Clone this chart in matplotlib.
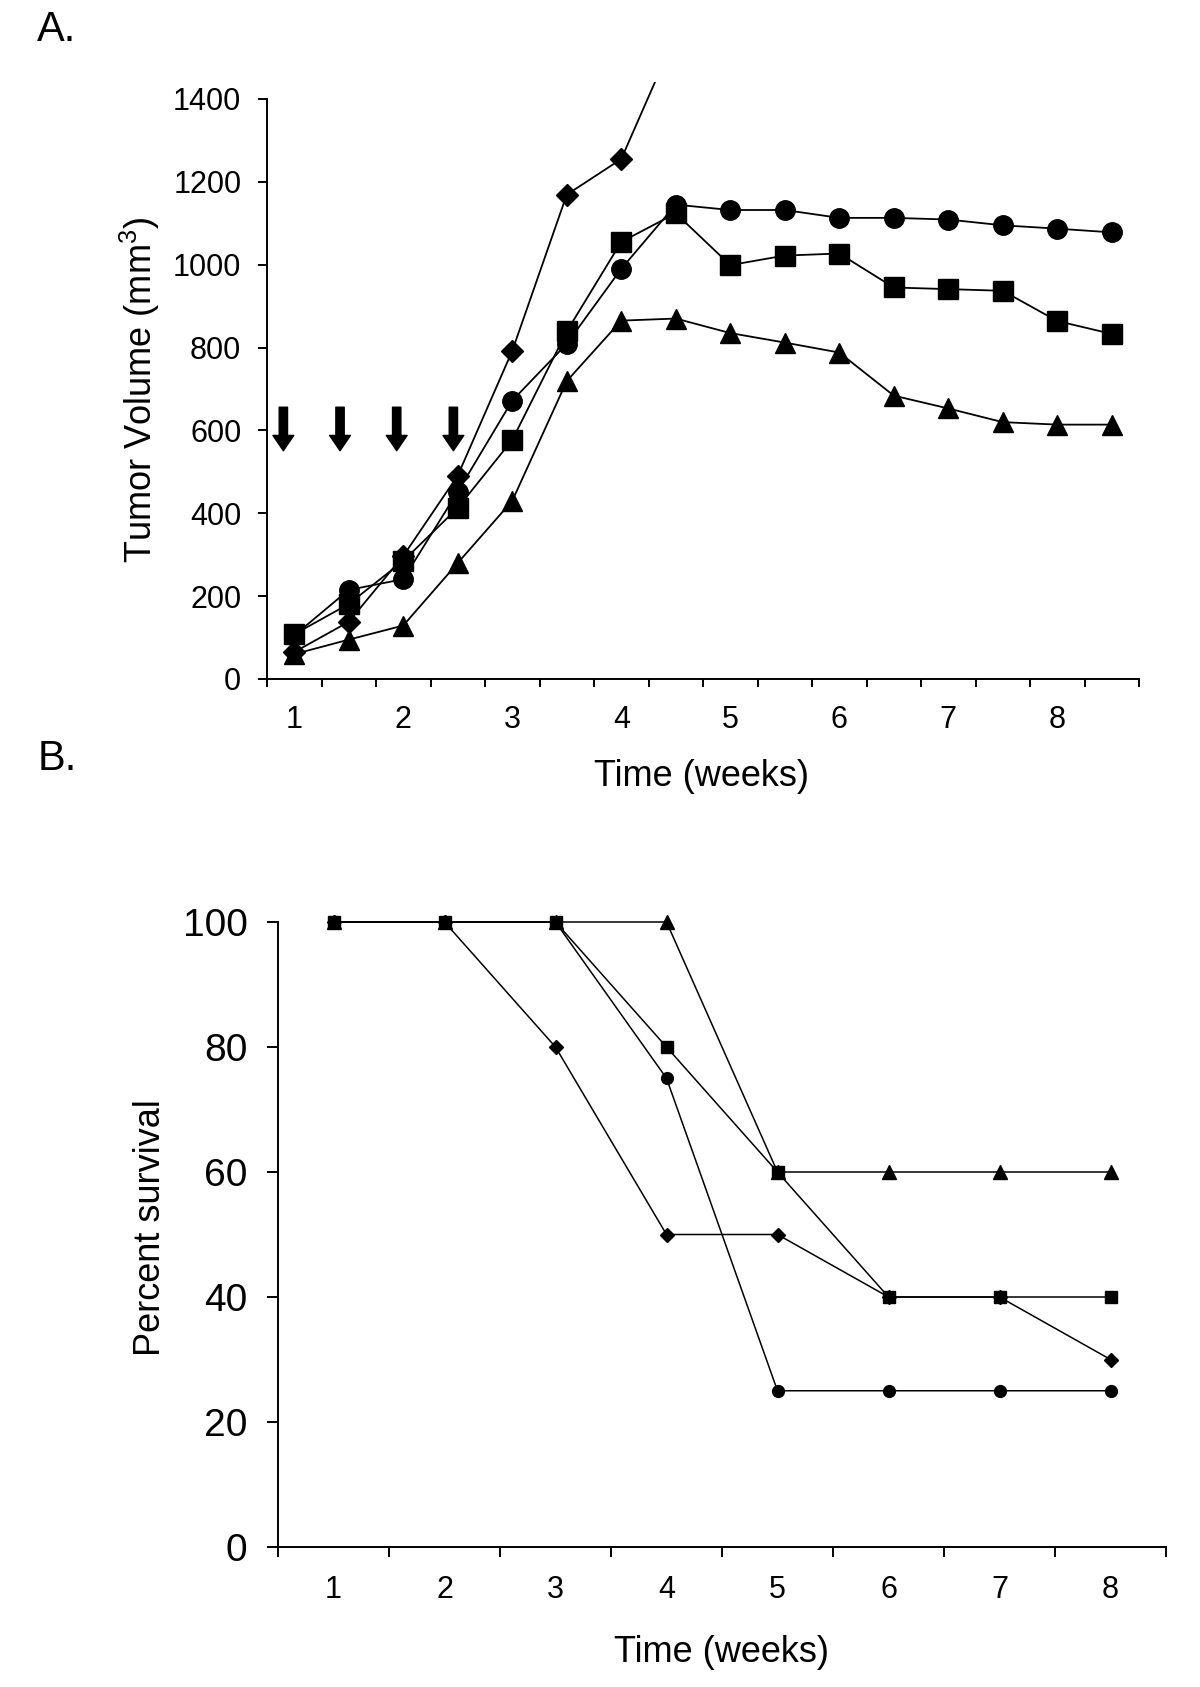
import matplotlib
matplotlib.use('Agg')
import matplotlib.pyplot as plt
from matplotlib.ticker import FixedLocator

plt.rcParams['font.family'] = ['Liberation Sans', 'DejaVu Sans']
plt.rcParams['mathtext.default'] = 'regular'

# ---------------- Panel A data ----------------
weeks_a = [1, 1.5, 2, 2.5, 3, 3.5, 4, 4.5, 5, 5.5, 6, 6.5, 7, 7.5, 8, 8.5]
vol_circle = [105, 215, 241, 452, 672, 809, 990, 1145, 1132, 1132, 1113, 1113, 1109, 1095, 1087, 1078]
vol_square = [108, 181, 285, 413, 577, 839, 1055, 1124, 999, 1022, 1027, 945, 941, 937, 864, 833]
vol_triangle = [60, 95, 129, 280, 430, 719, 865, 870, 835, 812, 788, 684, 653, 620, 614, 614]
weeks_diamond = [1, 1.5, 2, 2.5, 3, 3.5, 4, 4.5]
vol_diamond = [65, 138, 297, 491, 792, 1169, 1255, 1555]
arrow_weeks = [0.9, 1.42, 1.94, 2.46]
arrow_top = 656
arrow_tip = 551
a_yticks = [0, 200, 400, 600, 800, 1000, 1200, 1400]
a_xlabels = [1, 2, 3, 4, 5, 6, 7, 8]

# ---------------- Panel B data ----------------
weeks_b = [1, 2, 3, 4, 5, 6, 7, 8]
surv_triangle = [100, 100, 100, 100, 60, 60, 60, 60]
surv_square = [100, 100, 100, 80, 60, 40, 40, 40]
surv_circle = [100, 100, 100, 75, 25, 25, 25, 25]
surv_diamond = [100, 100, 80, 50, 50, 40, 40, 30]
b_yticks = [0, 20, 40, 60, 80, 100]
b_xlabels = [1, 2, 3, 4, 5, 6, 7, 8]

W, H = 1200, 1687
fig = plt.figure(figsize=(W / 100, H / 100), dpi=100)

# ---------- Panel A ----------
axA = fig.add_axes([267 / W, 1 - 679 / H, (1139 - 267) / W, (679 - 82.4) / H])
axA.set_xlim(0.75, 8.75)
axA.set_ylim(0, 1440)
for s in ['top', 'right']:
    axA.spines[s].set_visible(False)
axA.spines['left'].set_bounds(0, 1400)
for s in ['left', 'bottom']:
    axA.spines[s].set_linewidth(1.4)

lwA = 1.3
axA.plot(weeks_diamond, vol_diamond, color='k', lw=lwA, marker='D', ms=11, zorder=3)
axA.plot(weeks_a, vol_triangle, color='k', lw=lwA, marker='^', ms=15, zorder=3)
axA.plot(weeks_a, vol_square, color='k', lw=lwA, marker='s', ms=14, zorder=4)
axA.plot(weeks_a, vol_circle, color='k', lw=lwA, marker='o', ms=14, zorder=5)

for w in arrow_weeks:
    axA.annotate('', xy=(w, arrow_tip), xytext=(w, arrow_top),
                 arrowprops=dict(arrowstyle='simple,head_length=0.55,head_width=0.75,tail_width=0.3',
                                 mutation_scale=20, color='k', shrinkA=0, shrinkB=0),
                 annotation_clip=False)

axA.yaxis.set_major_locator(FixedLocator(a_yticks))
axA.set_yticklabels([str(v) for v in a_yticks])
axA.tick_params(axis='y', which='major', length=6.5, width=1.4, labelsize=22, pad=12)
major_x_a = [0.75 + 0.5 * i for i in range(17)]
axA.xaxis.set_major_locator(FixedLocator(major_x_a))
axA.xaxis.set_minor_locator(FixedLocator(a_xlabels))
axA.xaxis.set_major_formatter(plt.NullFormatter())
axA.set_xticklabels([str(v) for v in a_xlabels], minor=True)
axA.tick_params(axis='x', which='major', length=6, width=1.4)
axA.tick_params(axis='x', which='minor', length=0, labelsize=22, pad=19)

axA.set_xlabel('Time (weeks)', fontsize=26)
axA.xaxis.set_label_coords(702 / W, 1 - 777 / H, transform=fig.transFigure)
axA.xaxis.label.set_va('center')
axA.set_ylabel('Tumor Volume (mm$^3$)', fontsize=26)
axA.yaxis.set_label_coords(140 / W, 1 - 390 / H, transform=fig.transFigure)
axA.yaxis.label.set_va('center')

fig.text(37 / W, 1 - 30 / H, 'A.', fontsize=30, ha='left', va='center')
fig.text(38 / W, 1 - 759 / H, 'B.', fontsize=30, ha='left', va='center')

# ---------- Panel B ----------
axB = fig.add_axes([278 / W, 1 - 1547 / H, (1166 - 278) / W, (1547 - 922) / H])
axB.set_xlim(0.5, 8.5)
axB.set_ylim(0, 100)
for s in ['top', 'right']:
    axB.spines[s].set_visible(False)
for s in ['left', 'bottom']:
    axB.spines[s].set_linewidth(1.4)

lwB = 1.1
axB.plot(weeks_b, surv_circle, color='k', lw=lwB, marker='o', ms=8.5, clip_on=False, zorder=3)
axB.plot(weeks_b, surv_diamond, color='k', lw=lwB, marker='D', ms=7.5, clip_on=False, zorder=3)
axB.plot(weeks_b, surv_triangle, color='k', lw=lwB, marker='^', ms=10, clip_on=False, zorder=3)
axB.plot(weeks_b, surv_square, color='k', lw=lwB, marker='s', ms=8.5, clip_on=False, zorder=4)

axB.yaxis.set_major_locator(FixedLocator(b_yticks))
axB.set_yticklabels([str(v) for v in b_yticks])
axB.tick_params(axis='y', which='major', length=8, width=1.4, labelsize=28, pad=14)
major_x_b = [0.5 + i for i in range(9)]
axB.xaxis.set_major_locator(FixedLocator(major_x_b))
axB.xaxis.set_minor_locator(FixedLocator(b_xlabels))
axB.xaxis.set_major_formatter(plt.NullFormatter())
axB.set_xticklabels([str(v) for v in b_xlabels], minor=True)
axB.tick_params(axis='x', which='major', length=7, width=1.4)
axB.tick_params(axis='x', which='minor', length=0, labelsize=22, pad=20)

axB.set_xlabel('Time (weeks)', fontsize=26)
axB.xaxis.set_label_coords(721 / W, 1 - 1652 / H, transform=fig.transFigure)
axB.xaxis.label.set_va('center')
axB.set_ylabel('Percent survival', fontsize=26)
axB.yaxis.set_label_coords(151 / W, 1 - 1228 / H, transform=fig.transFigure)
axB.yaxis.label.set_va('center')

fig.savefig('out.png', dpi=100)
